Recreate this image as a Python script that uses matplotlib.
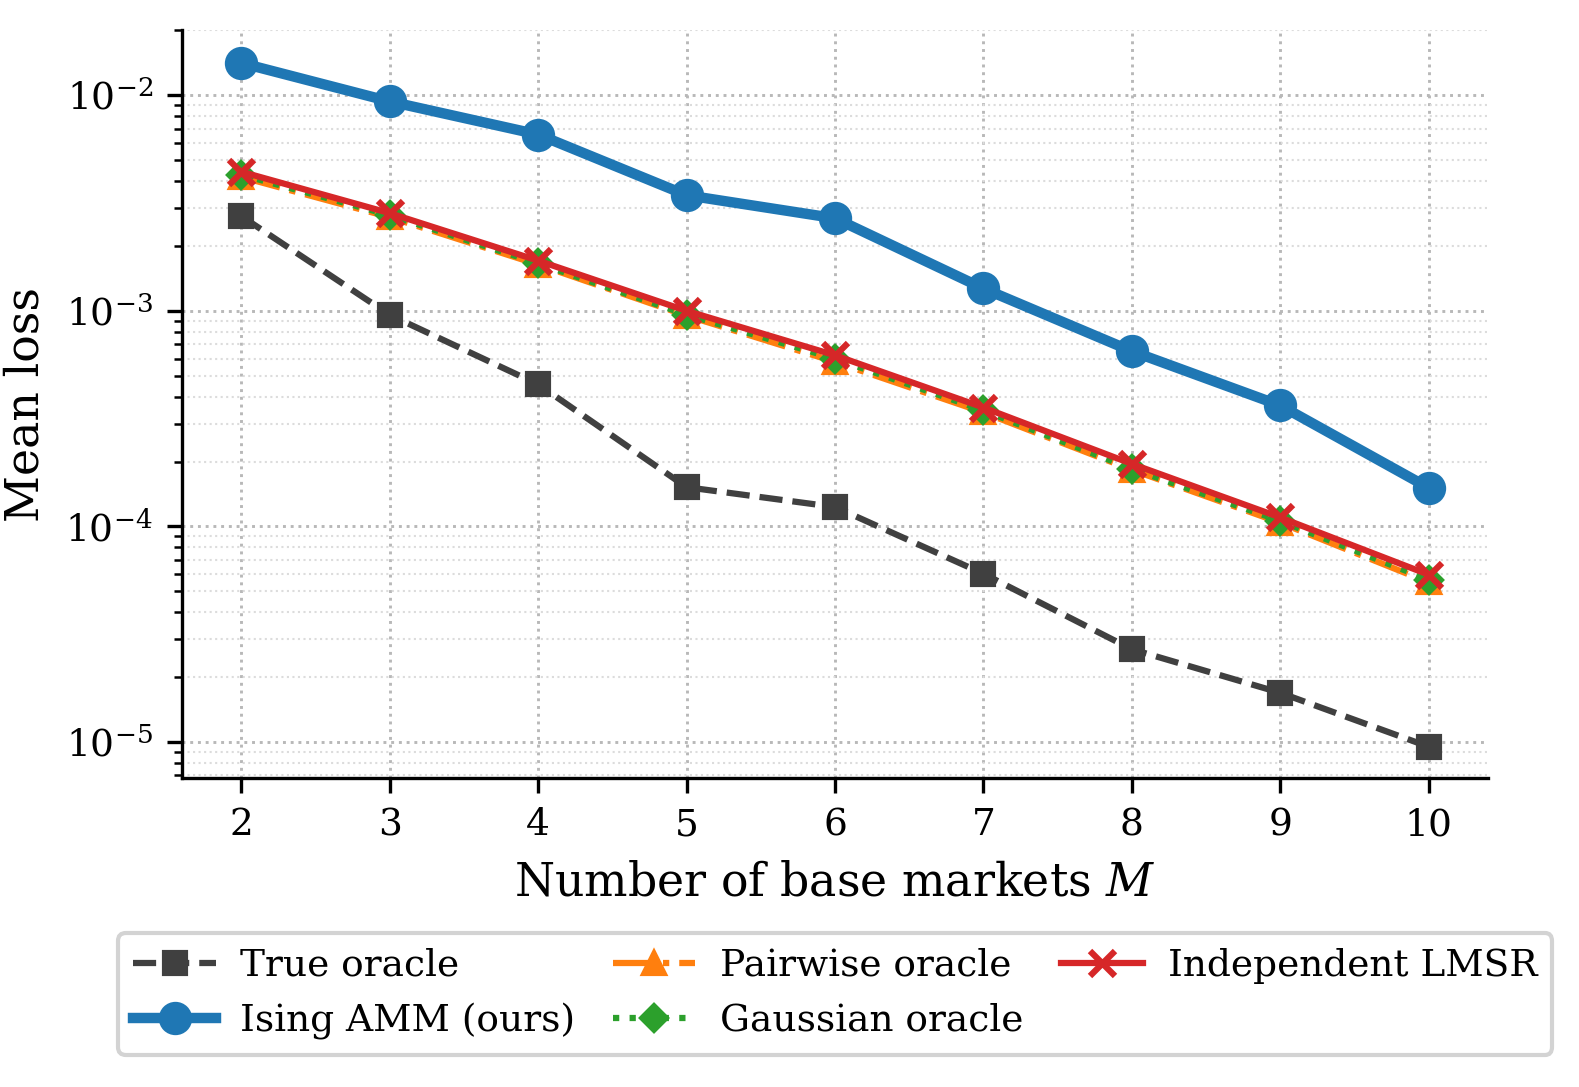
import matplotlib
matplotlib.use("Agg")
import matplotlib.pyplot as plt
import numpy as np

M = [2, 3, 4, 5, 6, 7, 8, 9, 10]
true_oracle = [0.00275, 0.000957, 0.000456, 0.000152, 0.000123, 6.03e-5, 2.69e-5, 1.69e-5, 9.5e-6]
ising_amm = [0.01413, 0.00937, 0.00658, 0.00344, 0.00269, 0.00127, 0.00065, 0.000364, 0.000151]
pairwise = [0.00418, 0.00272, 0.00164, 0.00095, 0.00058, 0.000338, 0.000183, 0.000104, 5.5e-5]
gaussian = [0.00428, 0.00278, 0.00166, 0.00096, 0.00060, 0.000345, 0.000185, 0.000106, 5.65e-5]
indep_lmsr = [0.00442, 0.00284, 0.00171, 0.00100, 0.000622, 0.000356, 0.000195, 0.000110, 5.97e-5]

plt.rcParams['font.family'] = ['DejaVu Serif']
plt.rcParams['mathtext.fontset'] = 'dejavuserif'

W, H = 1579, 1087
DPI = 300
fig = plt.figure(figsize=(W/DPI, H/DPI), dpi=DPI)
ax = fig.add_axes([182/W, 1-778/H, (1488-182)/W, (778-30)/H])

ax.plot(M, true_oracle, linestyle='--', color='#404040', marker='s', markersize=5.5, linewidth=1.5, label='True oracle', zorder=3)
ax.plot(M, ising_amm, linestyle='-', color='#1f77b4', marker='o', markersize=7, linewidth=2.5, label='Ising AMM (ours)', zorder=4)
ax.plot(M, pairwise, linestyle='-.', color='#ff7f0e', marker='^', markersize=5.5, linewidth=1.5, label='Pairwise oracle', zorder=3)
ax.plot(M, gaussian, linestyle=':', color='#2ca02c', marker='D', markersize=4.5, linewidth=1.5, label='Gaussian oracle', zorder=3)
ax.plot(M, indep_lmsr, linestyle='-', color='#d62728', marker='x', markersize=6, markeredgewidth=1.5, linewidth=1.5, label='Independent LMSR', zorder=5)

ax.set_yscale('log')
ax.set_ylim(6.8e-6, 0.0201)
ax.set_xlim(1.6, 10.4)
ax.set_xticks(M)
ax.tick_params(axis='both', which='major', labelsize=9)

ax.grid(True, which='major', linestyle=':', color='#b8b8b8', linewidth=0.7)
ax.grid(True, which='minor', axis='y', linestyle=':', color='#dcdcdc', linewidth=0.5)

for s in ['top', 'right']:
    ax.spines[s].set_visible(False)

ax.set_xlabel('Number of base markets $M$', fontsize=11)
ax.set_ylabel('Mean loss', fontsize=11)

leg = fig.legend(*ax.get_legend_handles_labels(), loc='upper center',
                 bbox_to_anchor=(0.529, 1-933/H), borderaxespad=0, ncol=3, fontsize=9,
                 frameon=True, fancybox=True, edgecolor='#c8c8c8', columnspacing=1.0,
                 handlelength=2.2, handletextpad=0.65, borderpad=0.4, labelspacing=0.5)
leg.get_frame().set_linewidth(1.0)

fig.savefig('out.png', dpi=DPI)
